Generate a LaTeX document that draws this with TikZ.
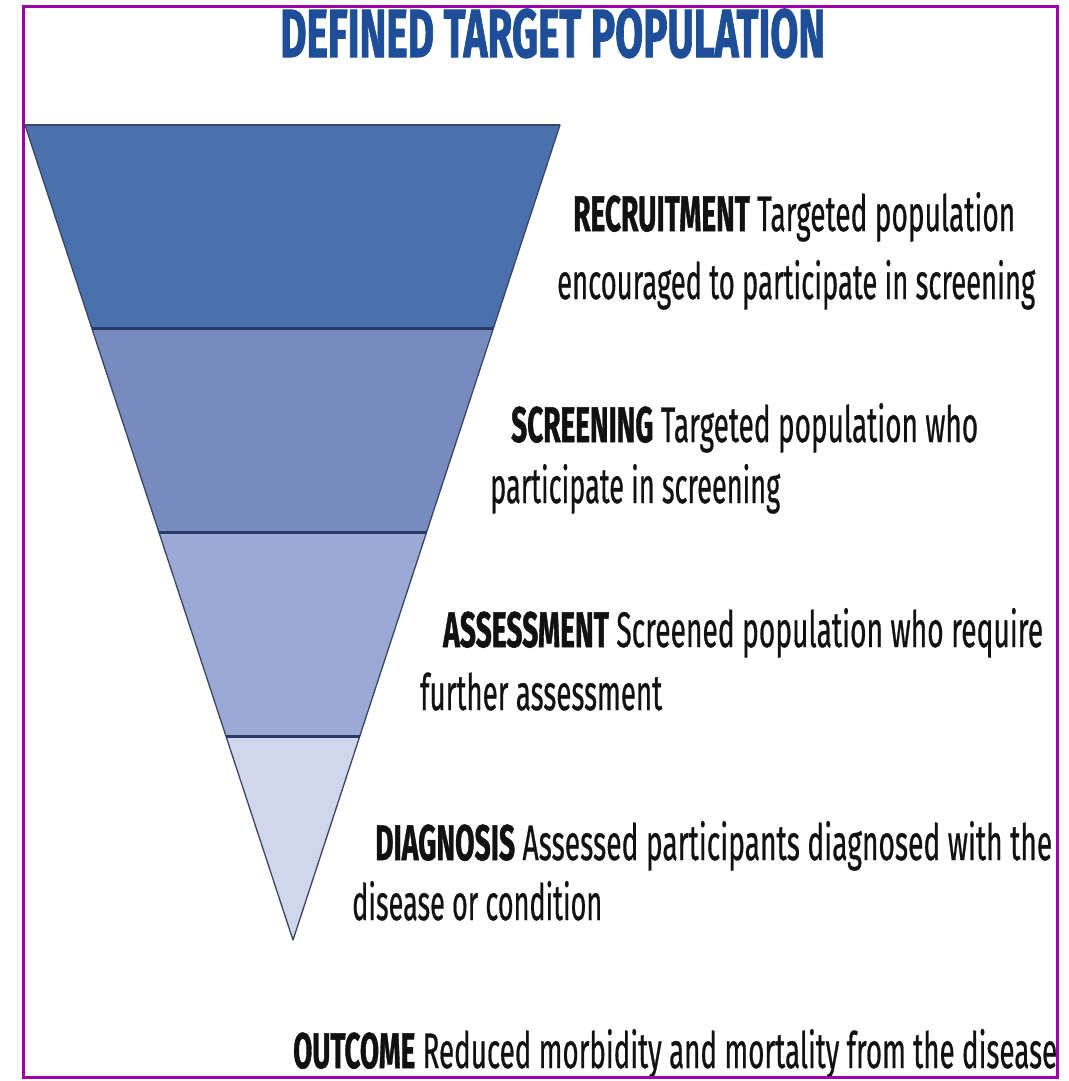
\documentclass[tikz,border=0pt]{standalone}
\usepackage{fontspec}
\usepackage{graphicx}
\setmainfont{Fira Sans}
\newfontfamily\stagefont{Fira Sans}[FakeBold=0.7, BoldFeatures={FakeBold=1.2}]
\newfontfamily\headfont{Fira Sans}[BoldFeatures={FakeBold=1.6}]
\usetikzlibrary{calc}

\definecolor{bandA}{RGB}{74,112,174}
\definecolor{bandB}{RGB}{120,139,191}
\definecolor{bandC}{RGB}{155,170,212}
\definecolor{bandD}{RGB}{208,214,236}
\definecolor{divline}{RGB}{43,57,104}
\definecolor{edgeline}{RGB}{58,70,100}
\definecolor{titleblue}{RGB}{30,78,152}
\definecolor{framepurple}{RGB}{158,0,168}
\definecolor{inkblack}{RGB}{17,17,17}

% squeeze a line of text horizontally to a given width (in pt)
\newlength\natw
\newcommand\fitline[2]{\settowidth\natw{#2}\pgfmathsetmacro\sxf{#1/\natw}\scalebox{\sxf}[1]{#2}}

\tikzset{
  stagetext/.style={anchor=base west, inner sep=0pt, text=inkblack, font=\stagefont\fontsize{50}{50}\selectfont},
  titletext/.style={anchor=base west, inner sep=0pt, text=titleblue, font=\headfont\fontsize{68}{68}\selectfont\bfseries},
}

\begin{document}
\begin{tikzpicture}[x=1pt,y=-1pt]
  \useasboundingbox (0,0) rectangle (1068,1081);
  \fill[white] (0,0) rectangle (1068,1081);

  % funnel corners
  \coordinate (TL) at (25,125);
  \coordinate (TR) at (560,125);
  \coordinate (AP) at (293,940);
  \foreach \f/\n in {0.25/1,0.5/2,0.75/3}{
    \coordinate (L\n) at ($(TL)!\f!(AP)$);
    \coordinate (R\n) at ($(TR)!\f!(AP)$);
  }

  % funnel bands
  \fill[bandA] (TL) -- (TR) -- (R1) -- (L1) -- cycle;
  \fill[bandB] (L1) -- (R1) -- (R2) -- (L2) -- cycle;
  \fill[bandC] (L2) -- (R2) -- (R3) -- (L3) -- cycle;
  \fill[bandD] (L3) -- (R3) -- (AP) -- cycle;

  % funnel outline and band dividers
  \draw[edgeline, line width=1.3pt, line join=round] (TL) -- (TR) -- (AP) -- cycle;
  \draw[edgeline, line width=2.2pt] (TL) -- (TR);
  \foreach \n in {1,2,3}{
    \draw[divline, line width=3pt] (L\n) -- (R\n);
  }

  % title
  \node[titletext] (title) at (280,57) {\fitline{545}{DEFINED TARGET POPULATION}};

  % stage descriptions
  \node[stagetext] (rec1) at (573,231) {\fitline{442}{\textbf{RECRUITMENT} Targeted population}};
  \node[stagetext] (rec2) at (557,299) {\fitline{478}{encouraged to participate in screening}};
  \node[stagetext] (scr1) at (511,442) {\fitline{467}{\textbf{SCREENING} Targeted population who}};
  \node[stagetext] (scr2) at (490,503) {\fitline{290}{participate in screening}};
  \node[stagetext] (ass1) at (443,647) {\fitline{600}{\textbf{ASSESSMENT} Screened population who require}};
  \node[stagetext] (ass2) at (420,710) {\fitline{242}{further assessment}};
  \node[stagetext] (dia1) at (375,860) {\fitline{677}{\textbf{DIAGNOSIS} Assessed participants diagnosed with the}};
  \node[stagetext] (dia2) at (352,920) {\fitline{250}{disease or condition}};
  \node[stagetext] (out1) at (293,1068) {\fitline{764}{\textbf{OUTCOME} Reduced morbidity and mortality from the disease}};

  % frame
  \draw[framepurple, line width=3pt] (23.5,7) rectangle (1057,1077.5);
\end{tikzpicture}
\end{document}
